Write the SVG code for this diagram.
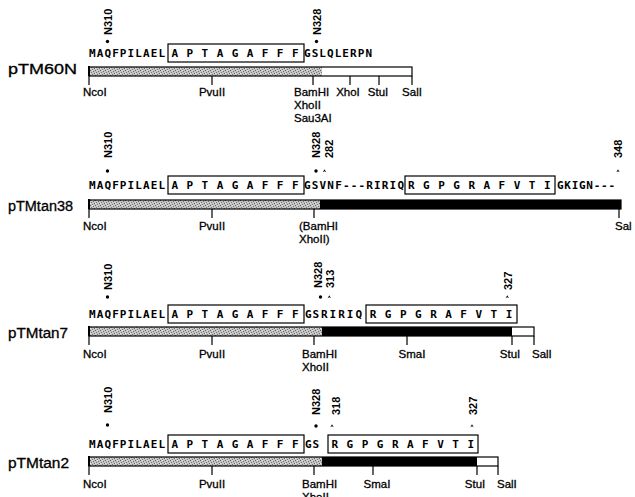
<svg xmlns="http://www.w3.org/2000/svg" width="635" height="497" viewBox="0 0 635 497">
<defs>
<pattern id="stip" width="5" height="5" patternUnits="userSpaceOnUse">
<rect width="5" height="5" fill="#c4c4c4"/>
<rect x="0" y="0" width="1" height="1" fill="#5e5e5e"/>
<rect x="3" y="1" width="1" height="1" fill="#6e6e6e"/>
<rect x="1" y="2" width="1" height="1" fill="#7a7a7a"/>
<rect x="4" y="3" width="1" height="1" fill="#626262"/>
<rect x="2" y="4" width="1" height="1" fill="#747474"/>
<rect x="2" y="0" width="1" height="1" fill="#e6e6e6"/>
<rect x="0" y="3" width="1" height="1" fill="#e6e6e6"/>
</pattern>
<path id="car" d="M-1.7,1.3 L0,-1.7 L1.7,1.3 L0,0.3 Z" fill="#000"/>
<circle id="dot" r="1.7" fill="#000"/>
</defs>
<style>
.lab{font-family:"Liberation Sans",Arial,sans-serif;font-size:14px;fill:#000;stroke:#000;stroke-width:0.3}
.enz{font-family:"Liberation Sans",Arial,sans-serif;font-size:11.5px;fill:#000;stroke:#000;stroke-width:0.3}
.mid{text-anchor:middle}
.seq{font-family:"DejaVu Sans Mono","Liberation Mono",monospace;font-size:11px;font-weight:bold;fill:#000}
.pos{font-family:"Liberation Sans",Arial,sans-serif;font-size:11px;font-weight:bold;fill:#000}
.box{fill:none;stroke:#000;stroke-width:1.2}
.tick{stroke:#000;stroke-width:1.2;fill:none}
.edge{stroke:#000;stroke-width:2;fill:none}
</style>

<g id="pTM60N">
<text class="lab" x="8" y="74" textLength="69" lengthAdjust="spacingAndGlyphs">pTM60N</text>
<text class="pos" transform="translate(112,35) rotate(-90)">N310</text>
<text class="pos" transform="translate(321,35) rotate(-90)">N328</text>
<use href="#dot" x="107.5" y="41.5"/>
<use href="#dot" x="316.5" y="41.5"/>
<text class="seq" x="89" y="57" textLength="76" lengthAdjust="spacing">MAQFPILAEL</text>
<rect class="box" x="168" y="44" width="136" height="18"/>
<text class="seq" x="171.5" y="57" textLength="127" lengthAdjust="spacing">A P T A G A F F F</text>
<text class="seq" x="304" y="57" textLength="68" lengthAdjust="spacing">GSLQLERPN</text>
<rect x="89" y="67" width="233" height="9" fill="url(#stip)"/>
<rect x="322" y="67" width="90" height="9" fill="#fff"/>
<rect class="box" x="89" y="67" width="323" height="9"/>
<path class="edge" d="M89,66V76"/>
<path class="tick" d="M89,76V85 M212,76V85 M313,76V85 M350,76V85 M379,76V85 M412,76V85"/>
<text class="enz" x="83" y="96">NcoI</text>
<text class="enz mid" x="212" y="96">PvuII</text>
<text class="enz" x="294" y="96">BamHI</text>
<text class="enz" x="294" y="109">XhoII</text>
<text class="enz" x="294" y="122">Sau3AI</text>
<text class="enz mid" x="348" y="96">XhoI</text>
<text class="enz mid" x="378" y="96">StuI</text>
<text class="enz mid" x="412" y="96">SalI</text>
</g>

<g id="pTMtan38">
<text class="lab" x="8" y="211" textLength="65" lengthAdjust="spacingAndGlyphs">pTMtan38</text>
<text class="pos" transform="translate(112,158) rotate(-90)">N310</text>
<text class="pos" transform="translate(320,158) rotate(-90)">N328</text>
<text class="pos" transform="translate(333,158) rotate(-90)">282</text>
<text class="pos" transform="translate(622,158) rotate(-90)">348</text>
<use href="#dot" x="107.5" y="171"/>
<use href="#dot" x="316" y="171"/>
<use href="#car" x="324.5" y="171"/>
<use href="#car" x="618" y="171"/>
<text class="seq" x="89" y="189" textLength="76" lengthAdjust="spacing">MAQFPILAEL</text>
<rect class="box" x="168" y="176" width="136" height="18"/>
<text class="seq" x="171.5" y="189" textLength="127" lengthAdjust="spacing">A P T A G A F F F</text>
<text class="seq" x="304" y="189" textLength="100" lengthAdjust="spacing">GSVNF---RIRIQ</text>
<rect class="box" x="405" y="176" width="150" height="18"/>
<text class="seq" x="408" y="189" textLength="142.5" lengthAdjust="spacing">R G P G R A F V T I</text>
<text class="seq" x="557" y="189" textLength="58" lengthAdjust="spacing">GKIGN---</text>
<rect x="89" y="200" width="231" height="9" fill="url(#stip)"/>
<rect x="320" y="200" width="301" height="9" fill="#000"/>
<rect class="box" x="89" y="200" width="532" height="9"/>
<path class="edge" d="M89,199V209"/>
<path class="tick" d="M89,209V218 M212,209V218 M314,209V218 M619,209V218"/>
<text class="enz" x="83" y="230">NcoI</text>
<text class="enz mid" x="212" y="230">PvuII</text>
<text class="enz" x="299" y="230">(BamHI</text>
<text class="enz" x="299" y="243">XhoII)</text>
<text class="enz" x="615" y="230">Sal</text>
</g>

<g id="pTMtan7">
<text class="lab" x="8" y="338" textLength="60" lengthAdjust="spacingAndGlyphs">pTMtan7</text>
<text class="pos" transform="translate(112,290) rotate(-90)">N310</text>
<text class="pos" transform="translate(322,288) rotate(-90)">N328</text>
<text class="pos" transform="translate(334,288) rotate(-90)">313</text>
<text class="pos" transform="translate(512,290) rotate(-90)">327</text>
<use href="#dot" x="107.5" y="297"/>
<use href="#dot" x="320.5" y="297"/>
<use href="#car" x="329.3" y="297"/>
<use href="#car" x="507.3" y="297"/>
<text class="seq" x="89" y="318" textLength="76" lengthAdjust="spacing">MAQFPILAEL</text>
<rect class="box" x="168" y="305" width="136" height="18"/>
<text class="seq" x="171.5" y="318" textLength="127" lengthAdjust="spacing">A P T A G A F F F</text>
<text class="seq" x="305" y="318" textLength="14" lengthAdjust="spacing">GS</text>
<text class="seq" x="321" y="318" textLength="41" lengthAdjust="spacing">RIRIQ</text>
<rect class="box" x="366" y="305" width="151" height="18"/>
<text class="seq" x="369.75" y="318" textLength="142.5" lengthAdjust="spacing">R G P G R A F V T I</text>
<rect x="89" y="327" width="233" height="9" fill="url(#stip)"/>
<rect x="322" y="327" width="190" height="9" fill="#000"/>
<rect x="512" y="327" width="22" height="9" fill="#fff"/>
<rect class="box" x="89" y="327" width="445" height="9"/>
<path class="edge" d="M89,326V336"/>
<path class="tick" d="M89,336V345 M212,336V345 M314,336V345 M407,336V345 M512,336V345 M534,336V345"/>
<text class="enz" x="83" y="358">NcoI</text>
<text class="enz mid" x="212" y="358">PvuII</text>
<text class="enz" x="302" y="358">BamHI</text>
<text class="enz" x="302" y="371">XhoII</text>
<text class="enz mid" x="412" y="358">SmaI</text>
<text class="enz mid" x="510" y="358">StuI</text>
<text class="enz" x="532" y="358">SalI</text>
</g>

<g id="pTMtan2">
<text class="lab" x="8" y="468" textLength="61" lengthAdjust="spacingAndGlyphs">pTMtan2</text>
<text class="pos" transform="translate(112,413) rotate(-90)">N310</text>
<text class="pos" transform="translate(320,415) rotate(-90)">N328</text>
<text class="pos" transform="translate(340,415) rotate(-90)">318</text>
<text class="pos" transform="translate(477,415) rotate(-90)">327</text>
<use href="#dot" x="107.5" y="425"/>
<use href="#dot" x="316" y="426"/>
<use href="#car" x="332" y="426"/>
<use href="#car" x="472" y="426"/>
<text class="seq" x="89" y="448" textLength="76" lengthAdjust="spacing">MAQFPILAEL</text>
<rect class="box" x="168" y="435" width="136" height="18"/>
<text class="seq" x="171.5" y="448" textLength="127" lengthAdjust="spacing">A P T A G A F F F</text>
<text class="seq" x="305" y="448" textLength="14" lengthAdjust="spacing">GS</text>
<rect class="box" x="328" y="435" width="150" height="18"/>
<text class="seq" x="331.5" y="448" textLength="142.5" lengthAdjust="spacing">R G P G R A F V T I</text>
<rect x="89" y="457" width="233" height="9" fill="url(#stip)"/>
<rect x="322" y="457" width="155" height="9" fill="#000"/>
<rect x="477" y="457" width="21" height="9" fill="#fff"/>
<rect class="box" x="89" y="457" width="409" height="9"/>
<path class="edge" d="M89,456V466"/>
<path class="tick" d="M89,466V475 M212,466V475 M314,466V475 M373,466V475 M477,466V475 M498,466V475"/>
<text class="enz" x="83" y="488">NcoI</text>
<text class="enz mid" x="212" y="488">PvuII</text>
<text class="enz" x="302" y="488">BamHI</text>
<text class="enz" x="302" y="501">XhoII</text>
<text class="enz mid" x="377" y="488">SmaI</text>
<text class="enz mid" x="475" y="488">StuI</text>
<text class="enz" x="497" y="488">SalI</text>
</g>
</svg>
